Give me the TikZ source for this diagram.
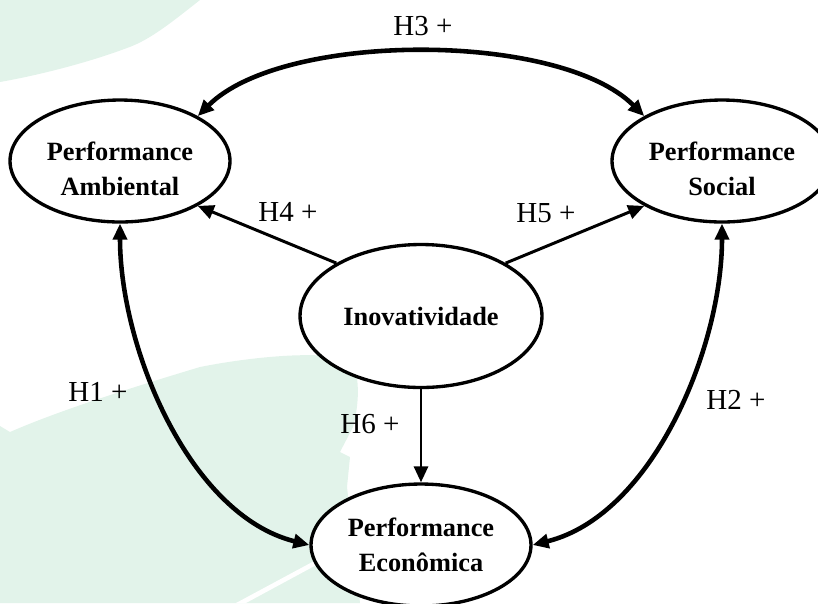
\documentclass[tikz,border=0pt]{standalone}
\usepackage{fontspec}
\setmainfont{Liberation Serif}
\definecolor{fundo}{RGB}{226,243,234}
\usetikzlibrary{arrows.meta, shapes.geometric}
\tikzset{construto/.style={ellipse, draw, fill=white, line width=1.9pt, inner sep=0pt, minimum width=4.4cm, minimum height=2.44cm, align=center, font=\fontsize{15}{20}\selectfont\bfseries},
hip/.style={inner sep=0pt, font=\fontsize{16.5}{20}\selectfont},
ponta/.tip={Triangle[length=0.32cm, width=0.28cm]},
seta/.style={line width=1.7pt, -ponta},
dupla/.style={line width=2.6pt, ponta-ponta}}

\begin{document}
\begin{tikzpicture}[x=0.02cm, y=-0.02cm]
\clip (0,0) rectangle (818,603);
\fill[fundo] (0,0) -- (200,0) .. controls (172,22) and (150,40) .. (127,48) .. controls (90,62) and (40,75) .. (0,82) -- cycle;
\fill[fundo] (0,426) -- (10,432) .. controls (60,410) and (140,385) .. (200,367) .. controls (250,357) and (320,350) .. (350,360) .. controls (362,375) and (358,410) .. (353,427) -- (340,452) -- (350,457) -- (347,487) -- (360,603) -- (0,603) -- cycle;
\fill[white] (236,603) -- (316,560) -- (320,563) -- (246,603) -- cycle;

\node[construto] (amb) at (120,161) {\rule{0pt}{19pt}Performance\\Ambiental};
\node[construto] (soc) at (722,161) {\rule{0pt}{19pt}Performance\\Social};
\node[construto, minimum width=4.84cm, minimum height=2.86cm] (inov) at (421,316) {Inovatividade};
\node[construto] (econ) at (421,545) {Performance\\Econômica};

\draw[dupla] (amb.30) to[out=45, in=135, looseness=0.69] (soc.150);
\draw[seta] (inov.148) -- (amb.-30);
\draw[seta] (inov.32) -- (soc.210);
\draw[seta] (inov.south) -- (econ.north);
\draw[dupla] (amb.south) to[out=-90, in=166, looseness=0.85] (econ.west);
\draw[dupla] (soc.south) to[out=-90, in=14, looseness=0.85] (econ.east);

\foreach \n/\x/\y in {1/98/392, 2/736/400, 3/423/26, 4/288/212, 5/546/213, 6/370/424}
  \node[hip] (h\n) at (\x,\y) {H\n\ +};
\end{tikzpicture}
\end{document}
